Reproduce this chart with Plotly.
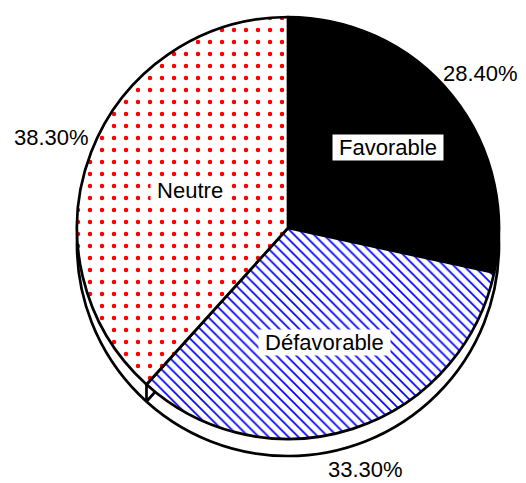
import math
import plotly.graph_objects as go

# Survey opinion shares (percent)
categories = ["Favorable", "Défavorable", "Neutre"]
shares = [28.40, 33.30, 38.30]
share_labels = [f"{v:.2f}%" for v in shares]

W, H = 526, 483
# pie geometry in pixels (y measured downward)
cx, cy, R = 288, 228, 211
depth = 17

fills = ["#000000", "#ffffff", "#ffffff"]
pattern_shapes = ["", "\\", "."]
pattern_fg = ["#000000", "#0000ff", "#ff0000"]
pattern_size = [8, 7, 12]
pattern_solid = [0.3, 0.24, 0.11]

# radial placement (fraction of radius) for name and value labels
name_r = [0.61, 0.57, 0.5]
value_r = [1.17, 1.2, 1.2]


def to_paper(px, py):
    return px / W, 1 - py / H


def point(angle_deg, r, dy=0.0):
    a = math.radians(angle_deg)
    return cx + r * math.sin(a), cy - r * math.cos(a) + dy


total = sum(shares)
starts, mids = [], []
acc = 0.0
for v in shares:
    starts.append(acc / total * 360)
    mids.append((acc + v / 2) / total * 360)
    acc += v

fig = go.Figure(
    go.Pie(
        labels=categories,
        values=shares,
        sort=False,
        direction="clockwise",
        rotation=0,
        textinfo="none",
        hoverinfo="label+percent",
        showlegend=False,
        domain=dict(
            x=[(cx - R) / W, (cx + R) / W],
            y=[1 - (cy + R) / H, 1 - (cy - R) / H],
        ),
        marker=dict(
            colors=fills,
            line=dict(color="#000000", width=2.7),
            pattern=dict(
                shape=pattern_shapes,
                fgcolor=pattern_fg,
                bgcolor=fills,
                size=pattern_size,
                solidity=pattern_solid,
                fillmode="replace",
            ),
        ),
    )
)

shapes = []
# side wall of the disc: the same circle pushed down by the thickness
x0, y0 = to_paper(cx - R, cy + R + depth)
x1, y1 = to_paper(cx + R, cy - R + depth)
shapes.append(dict(type="circle", xref="paper", yref="paper", layer="below",
                   x0=x0, y0=y0, x1=x1, y1=y1,
                   fillcolor="#ffffff", line=dict(color="#000000", width=2.7)))

# visible cut edge between the second and third slices
cut = starts[2]
pxa, pya = point(cut, R)
pxb, pyb = point(cut, R, depth)
ax, ay = to_paper(pxa, pya)
bx, by = to_paper(pxb, pyb)
shapes.append(dict(type="line", xref="paper", yref="paper", layer="below",
                   x0=ax, y0=ay, x1=bx, y1=by,
                   line=dict(color="#000000", width=2.7)))
# lower edge of the cut face, running toward the centre
ccx, ccy = to_paper(cx, cy + depth)
shapes.append(dict(type="line", xref="paper", yref="paper", layer="below",
                   x0=bx, y0=by, x1=ccx, y1=ccy,
                   line=dict(color="#000000", width=2.7)))

font = dict(family="Liberation Sans, Arial, sans-serif", size=22, color="#000000")
annotations = []
for name, m, rf in zip(categories, mids, name_r):
    px, py = point(m, R * rf)
    x, y = to_paper(px, py)
    annotations.append(dict(x=x, y=y, xref="paper", yref="paper",
                            text="\u00a0" + name + "\u00a0",
                            showarrow=False, font=font, bgcolor="#ffffff",
                            borderpad=0, xanchor="center", yanchor="middle"))
for txt, m, rf in zip(share_labels, mids, value_r):
    px, py = point(m, R * rf)
    x, y = to_paper(px, py)
    annotations.append(dict(x=x, y=y, xref="paper", yref="paper", text=txt,
                            showarrow=False, font=font,
                            xanchor="center", yanchor="middle"))

fig.update_layout(
    width=W,
    height=H,
    margin=dict(l=0, r=0, t=0, b=0),
    paper_bgcolor="#ffffff",
    plot_bgcolor="#ffffff",
    shapes=shapes,
    annotations=annotations,
)

fig.write_html("out.html")
